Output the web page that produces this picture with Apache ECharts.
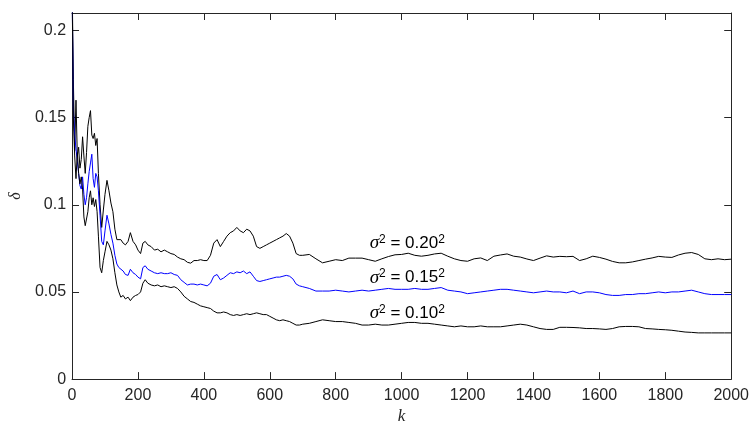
<!DOCTYPE html>
<html>

<head>
	<meta charset="UTF-8">
	<title></title>
	<style>
		html, body {
			margin: 0;
			padding: 0;
			background: #fff;
		}
		#chart {
			width: 752px;
			height: 430px;
		}
	</style>
	<script src="https://cdn.jsdelivr.net/npm/echarts@6.0.0/dist/echarts.min.js"></script>
</head>

<body>
	<div id="chart"></div>
	<script>
		// sample positions (k) shared by the three curves
		var kValues = [
			0, 4, 8, 12, 16, 20, 24, 28, 32, 36,
			40, 44, 48, 52, 56, 60, 64, 68, 72, 76,
			80, 85, 90, 95, 100, 106, 112, 118, 124, 130,
			136, 142, 148, 155, 162, 170, 177, 185, 193, 200,
			208, 215, 222, 230,
			240, 250, 260, 270, 280, 290, 300, 310, 320, 330,
			340, 350, 360, 370, 380, 390, 400, 410, 420, 430,
			440, 450, 460, 470, 480, 490, 500, 510, 520, 530,
			540, 550, 560, 570, 580, 590, 600, 610, 620, 630,
			640, 650, 660, 670, 680, 690, 700,
			720, 740, 760, 780, 800, 820, 840, 860, 880, 900,
			920, 940, 960, 980, 1000, 1020, 1040, 1060, 1080, 1100,
			1120, 1140, 1160, 1180, 1200, 1220, 1240, 1260, 1280, 1300,
			1320, 1340, 1360, 1380, 1400, 1420, 1440, 1460, 1480, 1500,
			1520, 1540, 1560, 1580, 1600, 1620, 1640, 1660, 1680, 1700,
			1720, 1740, 1760, 1780, 1800, 1820, 1840, 1860, 1880, 1900,
			1920, 1940, 1960, 1980, 2000
		];

		// sigma^2 = 0.20^2
		var delta020 = [
			0.23, 0.172, 0.131, 0.160, 0.128, 0.133, 0.121, 0.126, 0.139, 0.128,
			0.118, 0.130, 0.145, 0.150, 0.154, 0.140, 0.138, 0.141, 0.134, 0.138,
			0.118, 0.100, 0.087, 0.097, 0.106, 0.114, 0.108, 0.101, 0.096, 0.086,
			0.080, 0.079, 0.080, 0.078, 0.077, 0.079, 0.084, 0.079, 0.077, 0.074,
			0.072, 0.078, 0.079, 0.077,
			0.076, 0.074, 0.0745, 0.073, 0.074, 0.073, 0.072, 0.0715, 0.070, 0.069,
			0.0685, 0.067, 0.0665, 0.068, 0.068, 0.0685, 0.068, 0.068, 0.071, 0.078,
			0.080, 0.076, 0.079, 0.082, 0.084, 0.085, 0.087, 0.085, 0.084, 0.086,
			0.085, 0.082, 0.076, 0.075, 0.076, 0.077, 0.078, 0.079, 0.080, 0.081,
			0.082, 0.0835, 0.082, 0.078, 0.072, 0.071, 0.071,
			0.0715, 0.069, 0.0667, 0.0676, 0.0685, 0.068, 0.0694, 0.0694, 0.0694, 0.0685,
			0.0676, 0.069, 0.0703, 0.0713, 0.0715, 0.0722, 0.0710, 0.0705, 0.071, 0.0718,
			0.0722, 0.0705, 0.069, 0.068, 0.0676, 0.069, 0.0695, 0.068, 0.0705, 0.0712,
			0.0718, 0.0705, 0.070, 0.0689, 0.068, 0.0694, 0.0707, 0.070, 0.0704, 0.0702,
			0.0704, 0.068, 0.069, 0.0705, 0.0698, 0.0688, 0.0675, 0.0667, 0.0667, 0.0672,
			0.068, 0.0688, 0.0695, 0.0704, 0.070, 0.0698, 0.0712, 0.0722, 0.0726, 0.0715,
			0.069, 0.0685, 0.069, 0.0685, 0.0688
		];

		// sigma^2 = 0.15^2
		var delta015 = [
			0.23, 0.155, 0.140, 0.132, 0.125, 0.118, 0.111, 0.109, 0.116, 0.106,
			0.100, 0.104, 0.112, 0.119, 0.124, 0.129, 0.115, 0.110, 0.118, 0.116,
			0.108, 0.094, 0.079, 0.077, 0.085, 0.094, 0.089, 0.083, 0.078, 0.071,
			0.066, 0.064, 0.063, 0.062, 0.060, 0.0595, 0.063, 0.061, 0.060, 0.0585,
			0.0575, 0.064, 0.065, 0.063,
			0.062, 0.061, 0.0605, 0.061, 0.0605, 0.0605, 0.061, 0.060, 0.0595, 0.057,
			0.0555, 0.054, 0.0545, 0.0545, 0.054, 0.0545, 0.054, 0.0535, 0.055, 0.059,
			0.060, 0.057, 0.058, 0.0595, 0.061, 0.0605, 0.0615, 0.061, 0.062, 0.0605,
			0.0615, 0.059, 0.0565, 0.056, 0.0565, 0.057, 0.0575, 0.058, 0.0585, 0.0585,
			0.059, 0.0595, 0.059, 0.0575, 0.0545, 0.0535, 0.0530,
			0.052, 0.0505, 0.0505, 0.0505, 0.051, 0.0505, 0.050, 0.0505, 0.051, 0.0505,
			0.051, 0.0515, 0.052, 0.0515, 0.0515, 0.0515, 0.052, 0.0515, 0.0515, 0.052,
			0.0525, 0.051, 0.0505, 0.050, 0.049, 0.0495, 0.050, 0.0505, 0.051, 0.0515,
			0.0515, 0.051, 0.0505, 0.050, 0.0495, 0.050, 0.0505, 0.050, 0.050, 0.0495,
			0.0505, 0.049, 0.050, 0.050, 0.0495, 0.0485, 0.048, 0.048, 0.0485, 0.0485,
			0.049, 0.049, 0.0495, 0.050, 0.0495, 0.050, 0.050, 0.0505, 0.051, 0.050,
			0.049, 0.0485, 0.0485, 0.0485, 0.0485
		];

		// sigma^2 = 0.10^2
		var delta010 = [
			0.23, 0.150, 0.128, 0.115, 0.130, 0.118, 0.112, 0.116, 0.109, 0.093,
			0.088, 0.089, 0.096, 0.104, 0.108, 0.100, 0.104, 0.099, 0.103, 0.096,
			0.082, 0.064, 0.061, 0.068, 0.073, 0.079, 0.077, 0.074, 0.069, 0.061,
			0.054, 0.050, 0.047, 0.048, 0.046, 0.047, 0.045, 0.047, 0.048, 0.0485,
			0.050, 0.055, 0.057, 0.055,
			0.054, 0.0535, 0.054, 0.053, 0.0535, 0.053, 0.0525, 0.053, 0.052, 0.050,
			0.0475, 0.046, 0.0445, 0.044, 0.043, 0.042, 0.0415, 0.041, 0.0405, 0.039,
			0.038, 0.038, 0.0385, 0.038, 0.037, 0.0365, 0.037, 0.0365, 0.037, 0.0375,
			0.037, 0.0375, 0.038, 0.0375, 0.037, 0.037, 0.036, 0.035, 0.034, 0.0335,
			0.034, 0.0335, 0.033, 0.032, 0.031, 0.031, 0.0315,
			0.032, 0.033, 0.034, 0.0335, 0.033, 0.033, 0.0325, 0.032, 0.031, 0.031,
			0.0315, 0.031, 0.031, 0.0315, 0.032, 0.0325, 0.0325, 0.032, 0.032, 0.0315,
			0.031, 0.0305, 0.030, 0.0305, 0.030, 0.030, 0.0305, 0.030, 0.030, 0.030,
			0.0305, 0.031, 0.0315, 0.031, 0.030, 0.029, 0.0285, 0.0285, 0.0297, 0.0297,
			0.0296, 0.0294, 0.029, 0.029, 0.0288, 0.0285, 0.029, 0.030, 0.0302, 0.0302,
			0.030, 0.029, 0.0288, 0.0285, 0.0283, 0.028, 0.0275, 0.027, 0.0268, 0.0265,
			0.0265, 0.0265, 0.0265, 0.0265, 0.0265
		];

		var xTicks = { min: 0, max: 2000, interval: 200 };
		var yTicks = { min: 0, max: 0.21, interval: 0.05 };

		function pairs(vals) {
			return kValues.map(function (k, i) { return [k, vals[i]]; });
		}

		var axisColor = '#262626';
		var tickLabel = { color: axisColor, fontSize: 16, fontFamily: 'Liberation Sans, Arial, sans-serif' };

		function frameAxis(pos, isX, showLabel) {
			var t = isX ? xTicks : yTicks;
			return {
				type: 'value',
				position: pos,
				min: t.min,
				max: t.max,
				interval: t.interval,
				axisLine: { show: true, onZero: false, lineStyle: { color: axisColor, width: 1 } },
				axisTick: { show: true, inside: true, length: 7, lineStyle: { color: axisColor } },
				axisLabel: Object.assign({
					show: showLabel,
					margin: isX ? 8 : 6,
					showMaxLabel: isX,
					// plain numbers, no thousands separator
					formatter: function (v) { return String(+v.toFixed(4)); }
				}, tickLabel),
				splitLine: { show: false }
			};
		}

		var xBottom = frameAxis('bottom', true, true);
		xBottom.name = 'k';
		xBottom.nameLocation = 'middle';
		xBottom.nameGap = 27;
		xBottom.nameTextStyle = { fontFamily: 'Liberation Serif, serif', fontStyle: 'italic', fontSize: 17, color: axisColor };

		var yLeft = frameAxis('left', false, true);
		yLeft.name = 'δ';
		yLeft.nameLocation = 'middle';
		yLeft.nameRotate = 90;
		yLeft.nameGap = 38;
		yLeft.nameTextStyle = { fontFamily: 'Liberation Serif, serif', fontStyle: 'italic', fontSize: 16, color: axisColor };

		var myChart = echarts.init(document.getElementById('chart'));

		function curve(name, vals, color) {
			return {
				name: name,
				type: 'line',
				xAxisIndex: 0,
				yAxisIndex: 0,
				data: pairs(vals),
				showSymbol: false,
				symbol: 'none',
				clip: true,
				lineStyle: { color: color, width: 1 },
				itemStyle: { color: color }
			};
		}

		myChart.setOption({
			animation: false,
			grid: { left: 63, right: 17, top: 13, bottom: 41 },
			xAxis: [xBottom, frameAxis('top', true, false)],
			yAxis: [yLeft, frameAxis('right', false, false)],
			series: [
				curve('0.20', delta020, '#000000'),
				curve('0.15', delta015, '#0000ff'),
				curve('0.10', delta010, '#000000')
			]
		});

		// sigma labels anchored in data space (left edge, vertical centre)
		var labels = [
			{ text: '0.20', k: 903, d: 0.0778 },
			{ text: '0.15', k: 903, d: 0.0582 },
			{ text: '0.10', k: 903, d: 0.0380 }
		];
		var rich = {
			s: { fontFamily: 'Liberation Serif, serif', fontStyle: 'italic', fontSize: 19, color: '#000' },
			n: { fontFamily: 'Liberation Sans, Arial, sans-serif', fontSize: 17, color: '#000' },
			sup: { fontFamily: 'Liberation Sans, Arial, sans-serif', fontSize: 12, color: '#000', verticalAlign: 'top' }
		};
		myChart.setOption({
			graphic: labels.map(function (l) {
				var p = myChart.convertToPixel({ xAxisIndex: 0, yAxisIndex: 0 }, [l.k, l.d]);
				return {
					type: 'text',
					x: p[0],
					y: p[1],
					z: 10,
					style: {
						text: '{s|σ}{sup|2}{n| = ' + l.text + '}{sup|2}',
						rich: rich,
						align: 'left',
						verticalAlign: 'middle'
					}
				};
			})
		});
	</script>
</body>

</html>
